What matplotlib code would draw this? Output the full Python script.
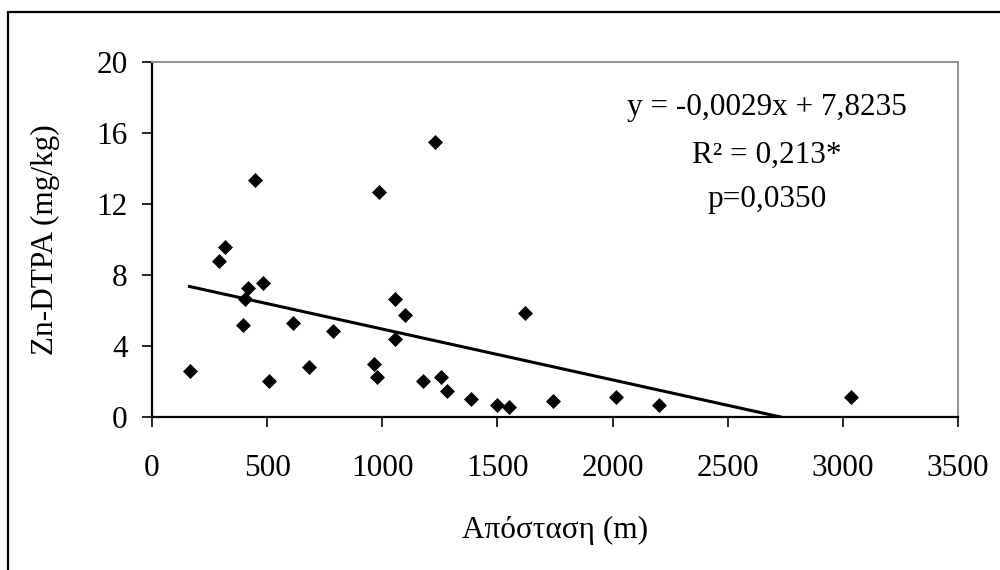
import matplotlib
matplotlib.use('Agg')
import matplotlib.pyplot as plt
from matplotlib.patches import Rectangle
import numpy as np

plt.rcParams['font.family'] = ['Liberation Serif', 'DejaVu Serif']

# distance (m) and Zn-DTPA (mg/kg)
distance = [163, 293, 319, 448, 415, 403, 397, 484, 510, 613,
            682, 788, 963, 979, 987, 1055, 1055, 1100, 1230, 1177,
            1256, 1282, 1386, 1499, 1551, 1620, 1742, 2014, 2202, 3036]
zn = [2.58, 8.81, 9.60, 13.33, 7.27, 6.67, 5.20, 7.57, 2.02, 5.31,
      2.82, 4.86, 2.96, 2.26, 12.66, 6.67, 4.41, 5.76, 15.48, 2.03,
      2.24, 1.47, 1.02, 0.68, 0.55, 5.88, 0.90, 1.13, 0.66, 1.13]

x_ticks = [0, 500, 1000, 1500, 2000, 2500, 3000, 3500]
y_ticks = [0, 4, 8, 12, 16, 20]

eq_lines = ['y = -0,0029x + 7,8235', 'R² = 0,213*', 'p=0,0350']

x = np.array(distance)
y = np.array(zn)
slope, intercept = np.polyfit(x, y, 1)

fs = 22.5

fig = plt.figure(figsize=(10, 5.7), dpi=100)
fig.patch.set_facecolor('white')
fig.patches.append(Rectangle((0.008, -0.05), 1.1, 1.05 - 12 / 570,
                             transform=fig.transFigure, fill=False,
                             edgecolor='black', linewidth=1.6))

ax = fig.add_axes([0.152, 1 - 417 / 570, 0.806, 355 / 570])

xs = np.array([x.min(), x.max()])
ax.plot(xs, slope * xs + intercept, color='black', linewidth=2.2, zorder=2)
ax.plot(x, y, linestyle='none', marker='D', markersize=7,
        color='black', markeredgewidth=0.5, zorder=3)

ax.set_xlim(0, 3500)
ax.set_ylim(0, 20)
ax.set_xticks(x_ticks)
ax.set_yticks(y_ticks)
ax.tick_params(direction='out', length=7.5, width=1.2, labelsize=fs,
               color='black')
ax.tick_params(axis='x', pad=19)
ax.tick_params(axis='y', pad=10)

for side in ['left', 'bottom']:
    ax.spines[side].set_color('black')
    ax.spines[side].set_linewidth(1.6)
for side in ['top', 'right']:
    ax.spines[side].set_color('#909090')
    ax.spines[side].set_linewidth(1.4)

ax.set_xlabel('Απόσταση (m)', fontsize=fs, labelpad=24)
ax.set_ylabel('Zn-DTPA (mg/kg)', fontsize=fs, labelpad=26)

for txt, yy in zip(eq_lines, [0.851, 0.715, 0.592]):
    ax.text(0.763, yy, txt, transform=ax.transAxes, ha='center',
            va='baseline', fontsize=fs)

plt.savefig('out.png', dpi=100, facecolor='white')
